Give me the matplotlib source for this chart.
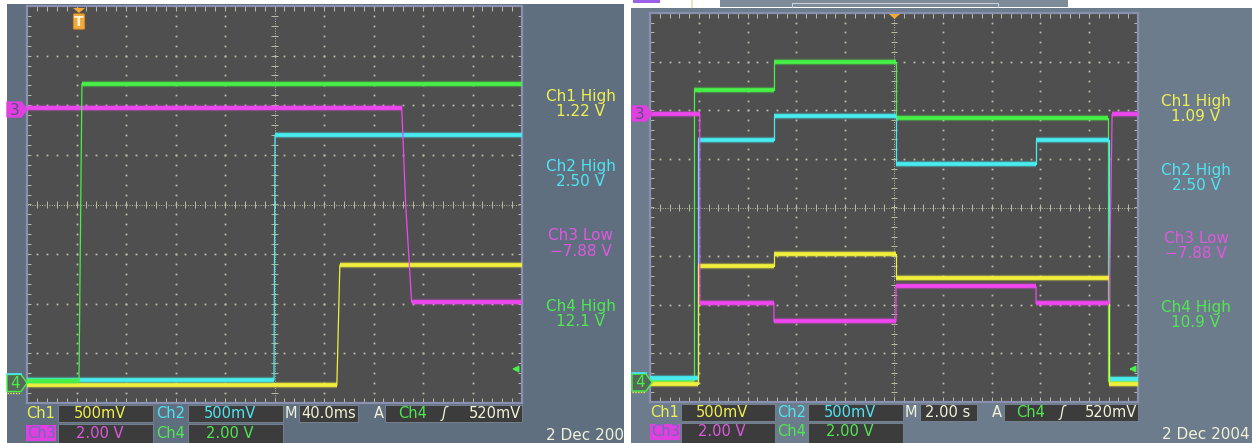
import numpy as np
import matplotlib.pyplot as plt
from matplotlib.patches import Rectangle, Polygon, FancyBboxPatch

W, H = 1252, 443

# ---- left capture, 40 ms/div (time and level in divisions) ----
left_ch1_t = [0, 6.26, 6.32, 10]
left_ch1_v = [-3.64, -3.64, -1.22, -1.22]
left_ch2_t = [0, 4.99, 5.01, 10]
left_ch2_v = [-3.54, -3.54, 1.40, 1.40]
left_ch3_t = [0, 7.57, 7.65, 7.77, 10]
left_ch3_v = [1.95, 1.95, 0.0, -1.97, -1.97]
left_ch4_t = [0, 1.05, 1.11, 10]
left_ch4_v = [-3.56, -3.56, 2.43, 2.43]
left_readout = ["1.22 V", "2.50 V", "\u22127.88 V", "12.1 V"]
left_timebase = "40.0ms"

# ---- right capture, 2.00 s/div ----
right_ch1_t = [0, 0.99, 0.99, 2.54, 2.54, 5.04, 5.04, 9.41, 9.41, 10]
right_ch1_v = [-3.63, -3.63, -1.21, -1.21, -0.96, -0.96, -1.45, -1.45, -3.63, -3.63]
right_ch2_t = [0, 0.98, 0.98, 2.54, 2.54, 5.04, 5.04, 7.91, 7.91, 9.41, 9.41, 10]
right_ch2_v = [-3.51, -3.51, 1.38, 1.38, 1.88, 1.88, 0.89, 0.89, 1.38, 1.38, -3.52, -3.52]
right_ch3_t = [0, 1.02, 1.02, 2.54, 2.54, 5.04, 5.04, 7.91, 7.91, 9.41, 9.47, 10]
right_ch3_v = [1.92, 1.92, -1.97, -1.97, -2.34, -2.34, -1.62, -1.62, -1.97, -1.97, 1.92, 1.92]
right_ch4_t = [0, 0.90, 0.90, 2.54, 2.54, 5.04, 5.04, 9.39, 9.39, 10]
right_ch4_v = [-3.55, -3.55, 2.42, 2.42, 2.99, 2.99, 1.84, 1.84, -3.55, -3.55]
right_readout = ["1.09 V", "2.50 V", "\u22127.88 V", "10.9 V"]
right_timebase = "2.00 s"

channel_names = ["Ch1 High", "Ch2 High", "Ch3 Low", "Ch4 High"]
volts_div = ["500mV", "500mV", "2.00 V", "2.00 V"]
trigger_text = "520mV"
date_text = "2 Dec 2004"

# colours
TRACE = ['#f0f03c', '#46ecf0', '#f046f0', '#46f046']
LABEL = ['#f0f050', '#50e4f0', '#e058e0', '#50e850']
LIGHT = '#f2f2d8'
GRID_BG = '#4f4f4f'
DOT = '#bcbca6'
BOX = '#3c3c3c'

fig = plt.figure(figsize=(W / 100, H / 100), dpi=100)
fig.patch.set_facecolor('white')


def px_axes(box, z):
    x0, y0, x1, y1 = box
    return fig.add_axes([x0 / W, 1 - y1 / H, (x1 - x0) / W, (y1 - y0) / H], zorder=z)


def panel(box, color):
    ax = px_axes(box, 0)
    ax.set_xlim(box[0], box[2])
    ax.set_ylim(box[3], box[1])
    ax.set_facecolor(color)
    ax.set_xticks([])
    ax.set_yticks([])
    for s in ax.spines.values():
        s.set_visible(False)
    return ax


def graticule(box):
    ax = px_axes(box, 1)
    ax.set_xlim(0, 10)
    ax.set_ylim(-4, 4)
    ax.set_facecolor(GRID_BG)
    ax.set_xticks([])
    ax.set_yticks([])
    for s in ax.spines.values():
        s.set_color('#8a90b0')
        s.set_linewidth(1.6)
    fine_x = np.arange(0, 10.01, 0.2)
    fine_y = np.arange(-4, 4.01, 0.2)
    for gx in range(1, 10):
        if gx != 5:
            ax.plot([gx] * len(fine_y), fine_y, ls='none', marker='s', ms=1.3, color=DOT, mew=0)
    for gy in range(-3, 4):
        if gy != 0:
            ax.plot(fine_x, [gy] * len(fine_x), ls='none', marker='s', ms=1.3, color=DOT, mew=0)
    # centre cross with fine ticks
    ax.axhline(0, color=DOT, lw=0.7, ls=(0, (1, 1.5)))
    ax.axvline(5, color=DOT, lw=0.7, ls=(0, (1, 1.5)))
    ax.vlines(fine_x, -0.07, 0.07, color=DOT, lw=0.7)
    ax.hlines(fine_y, 4.93, 5.07, color=DOT, lw=0.7)
    # edge ticks
    ax.vlines(fine_x, -4, -3.9, color=DOT, lw=0.7)
    ax.vlines(fine_x, 3.9, 4, color=DOT, lw=0.7)
    ax.hlines(fine_y, 0, 0.09, color=DOT, lw=0.7)
    ax.hlines(fine_y, 9.91, 10, color=DOT, lw=0.7)
    return ax


def trace(ax, t, v, color, z):
    ax.plot(t, v, color=color, lw=0.9, zorder=z)
    for i in range(len(t) - 1):
        if v[i] == v[i + 1]:
            seg_t, seg_v = t[i:i + 2], v[i:i + 2]
            ax.plot(seg_t, seg_v, color=color, lw=4.6, alpha=0.35, zorder=z, solid_capstyle='butt')
            ax.plot(seg_t, seg_v, color=color, lw=2.7, zorder=z, solid_capstyle='butt')


def status_bar(ax, x, row1, row2, timebase, date_xy):
    kw = dict(fontsize=10.5, va='center')
    y1, y2 = row1, row2
    ax.text(x['ch1'], y1, "Ch1", color=LABEL[0], ha='left', **kw)
    ax.add_patch(Rectangle((x['box1'][0], y1 - 8.5), x['box1'][1] - x['box1'][0], 17,
                           fc=BOX, ec='#7c8898', lw=0.6))
    ax.text(x['v1'], y1, volts_div[0], color=LABEL[0], ha='center', **kw)
    ax.text(x['ch2'], y1, "Ch2", color=LABEL[1], ha='left', **kw)
    ax.add_patch(Rectangle((x['box2'][0], y1 - 8.5), x['box2'][1] - x['box2'][0], 17,
                           fc=BOX, ec='#7c8898', lw=0.6))
    ax.text(x['v2'], y1, volts_div[1], color=LABEL[1], ha='center', **kw)
    ax.text(x['m'], y1, "M", color=LIGHT, ha='left', **kw)
    ax.add_patch(Rectangle((x['box3'][0], y1 - 8.5), x['box3'][1] - x['box3'][0], 17,
                           fc=BOX, ec='#7c8898', lw=0.6))
    ax.text(x['tb'], y1, timebase, color=LIGHT, ha='center', **kw)
    ax.text(x['a'], y1, "A", color=LIGHT, ha='left', **kw)
    ax.add_patch(Rectangle((x['box4'][0], y1 - 8.5), x['box4'][1] - x['box4'][0], 17,
                           fc=BOX, ec='#7c8898', lw=0.6))
    ax.text(x['trig_ch'], y1, "Ch4", color=LABEL[3], ha='left', **kw)
    ax.text(x['slope'], y1, "\u0283", color=LIGHT, ha='center', fontstyle='italic', **kw)
    ax.text(x['box4'][1] - 1, y1, trigger_text, color=LIGHT, ha='right', **kw)
    # second row
    ax.add_patch(Rectangle((x['ch1'], y2 - 8), 30, 16, fc='#e040e0', ec='none'))
    ax.text(x['ch1'] + 1, y2, "Ch3", color='#6c6cb0', ha='left', **kw)
    ax.add_patch(Rectangle((x['box1'][0], y2 - 9), x['box1'][1] - x['box1'][0], 30,
                           fc=BOX, ec='#7c8898', lw=0.6))
    ax.text(x['v1'], y2, volts_div[2], color=LABEL[2], ha='center', **kw)
    ax.text(x['ch2'], y2, "Ch4", color=LABEL[3], ha='left', **kw)
    ax.add_patch(Rectangle((x['box2'][0], y2 - 9), x['box2'][1] - x['box2'][0], 30,
                           fc=BOX, ec='#7c8898', lw=0.6))
    ax.text(x['v2'], y2, volts_div[3], color=LABEL[3], ha='center', **kw)
    ax.text(date_xy[0], date_xy[1], date_text, color=LIGHT, ha='left', va='center',
            fontsize=11, clip_on=True)


def readouts(ax, xc, ys, values):
    for i in range(4):
        ax.text(xc, ys[i], channel_names[i], color=LABEL[i], ha='center', va='center', fontsize=11)
        ax.text(xc, ys[i] + 15.5, values[i], color=LABEL[i], ha='center', va='center', fontsize=11)


# panels
lp = panel((7, 4, 624, 443), '#5f6f80')
rp = panel((631, 8, 1252, 443), '#6c7c8c')

lg = graticule((27, 6, 522, 403))
rg = graticule((650, 13, 1138, 402))

for i, (t, v) in enumerate([(left_ch1_t, left_ch1_v), (left_ch2_t, left_ch2_v),
                            (left_ch3_t, left_ch3_v), (left_ch4_t, left_ch4_v)]):
    trace(lg, t, v, TRACE[i], 3 + i)

right_order = [5, 4, 6, 3]
for i, (t, v) in enumerate([(right_ch1_t, right_ch1_v), (right_ch2_t, right_ch2_v),
                            (right_ch3_t, right_ch3_v), (right_ch4_t, right_ch4_v)]):
    trace(rg, t, v, TRACE[i], right_order[i])

readouts(lp, 581, [96, 166, 236, 306], left_readout)
readouts(rp, 1196, [101, 170, 238, 307], right_readout)

status_bar(lp, dict(ch1=26, box1=(58, 153), v1=100, ch2=156, box2=(188, 283), v2=230,
                    m=285, box3=(299, 358), tb=329, a=374, box4=(385, 522),
                    trig_ch=398, slope=444),
           413.5, 433, left_timebase, (546, 436))
status_bar(rp, dict(ch1=650, box1=(681, 775), v1=722, ch2=777, box2=(808, 903), v2=850,
                    m=905, box3=(920, 977), tb=948, a=992, box4=(1004, 1138),
                    trig_ch=1016, slope=1062),
           412.5, 431.5, right_timebase, (1162, 434.5))

# overlay for channel markers and trigger symbols
ov = fig.add_axes([0, 0, 1, 1], zorder=3)
ov.set_xlim(0, W)
ov.set_ylim(H, 0)
ov.set_axis_off()


def ch3_marker(x0, yc):
    ov.add_patch(Polygon([(x0, yc - 7.5), (x0 + 14, yc - 7.5), (x0 + 20, yc),
                          (x0 + 14, yc + 7.5), (x0, yc + 7.5)], closed=True,
                         fc='#e040e0', ec='#e040e0'))
    ov.text(x0 + 7.5, yc + 0.5, "3", color='#5e4e86', ha='center', va='center', fontsize=11)


def ch4_marker(x0, yc):
    ov.plot([x0, x0 + 14], [yc - 9.5, yc - 9.5], color=TRACE[1], lw=1.2)
    ov.add_patch(Polygon([(x0, yc - 8.5), (x0 + 14, yc - 8.5), (x0 + 20, yc),
                          (x0 + 14, yc + 8.5), (x0, yc + 8.5)], closed=True,
                         fc='#55685a', ec=TRACE[3], lw=1.0))
    ov.plot([x0, x0 + 14], [yc + 9.5, yc + 9.5], color=TRACE[0], lw=1.0, ls=(0, (1, 1)))
    ov.text(x0 + 8, yc, "4", color=TRACE[3], ha='center', va='center', fontsize=11)


def trig_arrow(x, y):
    ov.annotate("", xy=(x, y), xytext=(x + 11, y),
                arrowprops=dict(arrowstyle='-|>', color=TRACE[3], lw=1.2, mutation_scale=9))


ch3_marker(7, 109.5)
ch4_marker(7, 383)
ch3_marker(632, 113.5)
ch4_marker(632, 382.5)
trig_arrow(509, 369)
trig_arrow(1126, 369)

# trigger position markers
ov.add_patch(Polygon([(73, 8), (85, 8), (79, 13)], closed=True, fc='#f0a838', ec='none'))
ov.add_patch(FancyBboxPatch((74.5, 15), 9, 13, boxstyle='round,pad=1.2',
                            fc='#f0a838', ec='#d08828', lw=0.6))
ov.text(79, 21.5, "T", color='#fbf3d6', ha='center', va='center', fontsize=10, fontweight='bold')
ov.add_patch(Polygon([(889, 14), (900, 14), (894.5, 19)], closed=True, fc='#f0a838', ec='none'))

# clipped record bar at the top of the second capture
ov.add_patch(Rectangle((720, 0), 348, 7, fc='#7d8a98', ec='none'))
ov.plot([792, 792, 998, 998], [7, 3, 3, 7], color='#c8d0d8', lw=0.8)
ov.plot([692, 692], [0, 7], color='#e8e0b0', lw=1.2)
ov.add_patch(Rectangle((633, 0), 27, 3, fc='#9a60e8', ec='none'))

fig.savefig('out.png', dpi=100, facecolor=fig.get_facecolor())
